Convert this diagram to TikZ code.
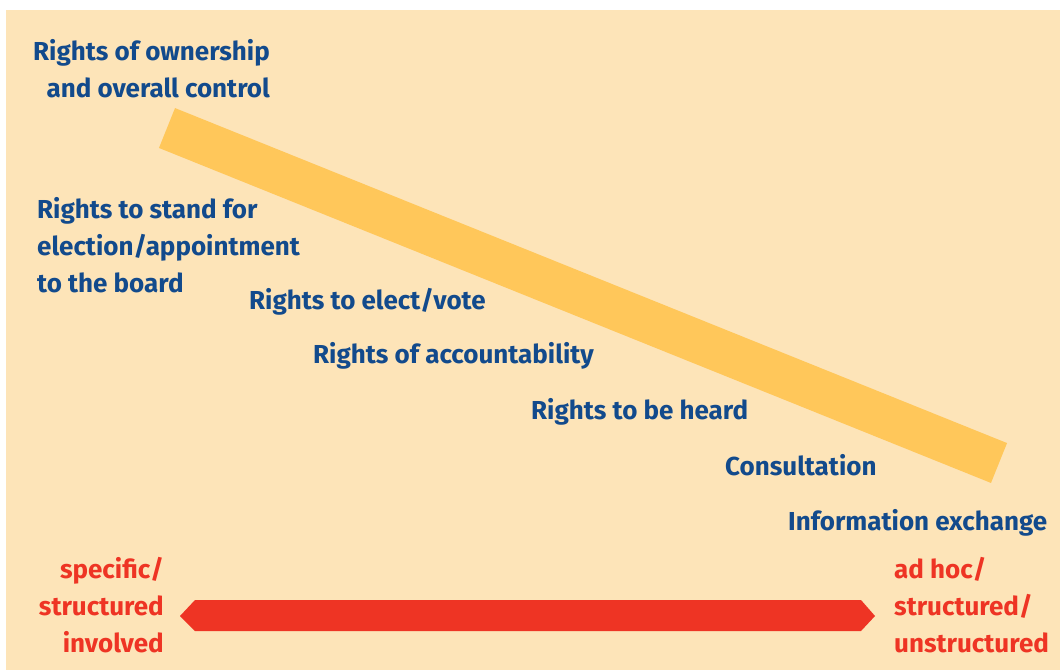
\documentclass[tikz,border=0pt]{standalone}
\usepackage{fontspec}
\setmainfont{Fira Sans}
\definecolor{paper}{RGB}{253,228,184}
\definecolor{band}{RGB}{255,199,90}
\definecolor{navy}{RGB}{18,74,140}
\definecolor{scarlet}{RGB}{238,52,36}
\begin{document}
\begin{tikzpicture}[x=1pt,y=-1pt,
    lab/.style={inner sep=0pt,text=navy,font=\bfseries\fontsize{26}{37}\selectfont},
    span/.style={inner sep=0pt,text=scarlet,font=\bfseries\fontsize{26}{37}\selectfont}]
  \useasboundingbox (0,0) rectangle (1060,670);
  \fill[paper] (6,10) rectangle (1060,670);

  % diagonal band
  \coordinate (hi) at (167,128);
  \coordinate (lo) at (999,463);
  \draw[band,line width=43pt] (hi) -- (lo);

  \node (own)   [lab,align=right,anchor=base east] at (270,97) {Rights of ownership\\and overall control};
  \node (stand) [lab,align=left,anchor=base west]  at (37,292) {Rights to stand for\\election/appointment\\to the board};
  \node (elect) [lab,anchor=base west] at (249,309) {Rights to elect/vote};
  \node (acc)   [lab,anchor=base west] at (313,363) {Rights of accountability};
  \node (heard) [lab,anchor=base west] at (531,419) {Rights to be heard};
  \node (cons)  [lab,anchor=base west] at (725,475) {Consultation};
  \node (info)  [lab,anchor=base west] at (788,530) {Information exchange};

  \node (spec)  [span,align=right,anchor=base east] at (164,652) {specific/\\structured\\involved};
  \node (adhoc) [span,align=left,anchor=base west]  at (894,652) {ad hoc/\\structured/\\unstructured};

  % red double arrow
  \coordinate (l) at (180,616);
  \coordinate (r) at (875,616);
  \fill[scarlet] (l) -- ++(15,-16) -- ++(666,0) -- (r) -- ++(-14,15) -- ++(-666,0) -- cycle;
\end{tikzpicture}
\end{document}
